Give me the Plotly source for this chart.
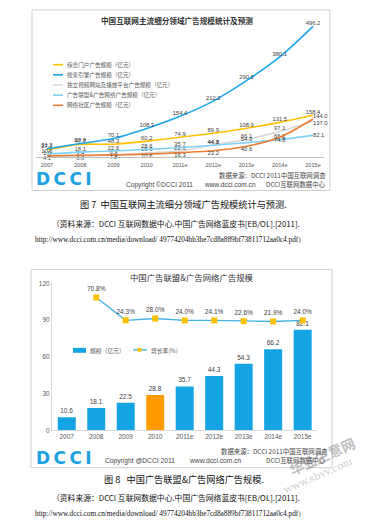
import plotly.graph_objects as go

W, H = 370, 524
def X(px): return px / W
def Y(py): return 1 - py / H

# ---------------- data: chart 1 ----------------
years = ["2007", "2008", "2009", "2010", "2011e", "2012e", "2013e", "2014e", "2015e"]
portal = [27.2, 47.7, 48.3, 60.2, 74.9, 89.9, 108.9, 131.5, 158.4]
search = [31.2, 50.8, 70.1, 108.3, 154.4, 212.2, 290.0, 380.1, 496.2]
video = [1.9, 3.4, 6.9, 15.3, 22.6, 44.8, 66.1, 97.1, 137.0]
adnet = [10.6, 18.1, 22.6, 28.6, 35.7, 44.3, 54.3, 66.2, 82.1]
community = [4.1, 6.6, 7.8, 10.6, 16.3, 23.2, 40.6, 74.8, 144.0]
series_names = ["综合门户广告规模（亿元）", "搜索引擎广告规模（亿元）",
                "独立视频网站及播放平台广告规模（亿元）", "广告联盟&广告网络广告规模（亿元）",
                "网络社区广告规模（亿元）"]

# ---------------- data: chart 2 ----------------
scale = [10.6, 18.1, 22.5, 28.8, 35.7, 44.3, 54.3, 66.2, 82.1]
growth_years = years[1:]
growth = [70.8, 24.3, 28.0, 24.0, 24.1, 22.6, 21.9, 24.0]
bar_ticks = [0, 30, 60, 90, 120]

NUM = "Liberation Sans, Noto Sans CJK SC, sans-serif"
CJK = "Noto Sans CJK SC, sans-serif"
LBL = "#404040"

fig = go.Figure()

c_portal, c_search, c_video, c_adnet, c_comm = "#FFC000", "#1CA7EC", "#D9D9D9", "#7FD2F5", "#ED7D31"
colors1 = [c_portal, c_search, c_video, c_adnet, c_comm]
vals1 = [portal, search, video, adnet, community]
pos1 = [
    ["top center"] * 9,
    ["top center"] * 8 + ["top center"],
    ["top center"] * 8 + ["bottom right"],
    ["top center"] * 8 + ["middle right"],
    ["bottom center"] * 8 + ["top right"],
]
for name, v, c, p in zip(series_names, vals1, colors1, pos1):
    fig.add_trace(go.Scatter(
        x=years, y=v, name=name, mode="lines+text",
        line=dict(color=c, width=1.6, shape="spline", smoothing=0.8),
        text=[f"{a:.1f}" for a in v], textposition=p,
        textfont=dict(size=5.8, color=LBL, family=NUM),
        cliponaxis=False, showlegend=False,
        xaxis="x", yaxis="y"))

# chart 2 bars
bar_colors = ["#14A3E3"] * 9
bar_colors[3] = "#FF9A00"
fig.add_trace(go.Bar(
    x=years, y=scale, name="规模（亿元）", marker=dict(color=bar_colors, line=dict(width=0)),
    width=0.61, text=[f"{a:.1f}" for a in scale], textposition="outside",
    textfont=dict(size=6.5, color=LBL, family=NUM), constraintext="none",
    cliponaxis=False, showlegend=False, xaxis="x2", yaxis="y2"))
fig.add_trace(go.Scatter(
    x=growth_years, y=growth, name="增长率(%)", mode="lines+markers+text",
    line=dict(color="#3DB3E6", width=1.3),
    marker=dict(symbol="square", size=6, color="#FFC000"),
    text=[f"{a:.1f}%" for a in growth], textposition="top center",
    textfont=dict(size=6.5, color=LBL, family=NUM),
    cliponaxis=False, showlegend=False, xaxis="x2", yaxis="y3"))

shapes = []
annos = []

def txt(x, y, s, size, color="#333", family=CJK, xa="center", ya="middle", angle=0):
    annos.append(dict(x=X(x), y=Y(y), xref="paper", yref="paper", text=s, showarrow=False,
                      xanchor=xa, yanchor=ya, textangle=angle,
                      font=dict(size=size, color=color, family=family)))

# chart frames
shapes.append(dict(type="rect", xref="paper", yref="paper", x0=X(32), x1=X(330), y0=Y(189), y1=Y(6),
                   line=dict(color="#CFCFCF", width=1), layer="below"))
shapes.append(dict(type="rect", xref="paper", yref="paper", x0=X(31), x1=X(332), y0=Y(470), y1=Y(269),
                   line=dict(color="#CFCFCF", width=1), layer="below"))

# chart 1 title & legend
annos.append(dict(x=X(177), y=Y(17), xref="paper", yref="paper", showarrow=False,
                  text="<b>中国互联网主流细分领域广告规模统计及预测</b>", xanchor="center", yanchor="middle",
                  font=dict(size=7.6, color="#333", family=CJK)))
for i, (name, c) in enumerate(zip(series_names, colors1)):
    yy = 61.5 + i * 10.3
    shapes.append(dict(type="line", xref="paper", yref="paper", x0=X(53), x1=X(63), y0=Y(yy), y1=Y(yy),
                       line=dict(color=c, width=1.6)))
    txt(65, yy, name, 5.6, "#595959", xa="left")

# chart 1 footer
txt(64, 177, "<b>D\u2009C\u2009C\u2009I</b>", 17, "#1BA1E2", family="DejaVu Sans, sans-serif")
txt(124, 183, "Copyright ©DCCI 2011", 6.6, "#444", family=NUM, xa="left")
txt(202, 183, "www.dcci.com.cn", 6.6, "#444", family=NUM, xa="left")
txt(328, 173.5, "数据来源：DCCI 2011中国互联网调查", 6.4, "#444", xa="right")
txt(328, 182.5, "DCCI互联网数据中心", 6.4, "#444", xa="right")
txt(333, 187, ".", 5, "#999", family=NUM, xa="left")

# caption 1
txt(183, 202.5, "图 7  中国互联网主流细分领域广告规模统计与预测.", 9.2, "#111")
txt(176, 222, "（资料来源：DCCI 互联网数据中心.中国广告网络蓝皮书[EB/OL].[2011].", 7.8, "#111")
txt(170, 238.5, "http://www.dcci.com.cn/media/download/ 49774204bb3be7cd8a889bf73811712aa0c4.pdf）",
    7.3, "#111", family="Liberation Serif, serif")
txt(314, 239, ".", 5, "#999", family=NUM, xa="left")
txt(12, 251, ".", 5, "#999", family=NUM, xa="left")

# chart 2 title & legend
txt(192, 276.5, "中国广告联盟&广告网络广告规模", 8.4, "#333")
shapes.append(dict(type="rect", xref="paper", yref="paper", x0=X(73), x1=X(86), y0=Y(353.5), y1=Y(348.5),
                   fillcolor="#14A3E3", line=dict(width=0)))
txt(88, 351, "规模（亿元）", 5.8, "#595959", xa="left")
shapes.append(dict(type="line", xref="paper", yref="paper", x0=X(133), x1=X(147), y0=Y(350.5), y1=Y(350.5),
                   line=dict(color="#3DB3E6", width=1.3)))
shapes.append(dict(type="rect", xref="paper", yref="paper", x0=X(137.5), x1=X(141.5), y0=Y(352.5), y1=Y(348.5),
                   fillcolor="#FFC000", line=dict(width=0)))
txt(149, 351, "增长率(%)", 5.8, "#595959", xa="left")

# chart 2 footer
txt(64, 460.5, "<b>D\u2009C\u2009C\u2009I</b>", 17, "#1BA1E2", family="DejaVu Sans, sans-serif")
txt(103, 463, "Copyright @DCCI 2011", 6.7, "#444", family=NUM, xa="left")
txt(187, 463, "www.dcci.com.cn", 6.7, "#444", family=NUM, xa="left")
txt(330, 454, "数据来源：DCCI 2011中国互联网调查", 6.4, "#444", xa="right")
txt(328, 463, "DCCI互联网数据中心", 6.4, "#444", xa="right")

# caption 2
txt(184, 481.5, "图 8   中国广告联盟&广告网络广告规模.", 9.2, "#111")
txt(176, 500, "（资料来源：DCCI 互联网数据中心.中国广告网络蓝皮书[EB/OL].[2011].", 7.8, "#111")
txt(170, 516, "http://www.dcci.com.cn/media/download/ 49774204bb3be7cd8a889bf73811712aa0c4.pdf）",
    7.3, "#111", family="Liberation Serif, serif")
txt(344, 516.5, ".", 5, "#999", family=NUM, xa="left")

# watermark
txt(322, 458, "<b>华业生意网</b>", 14, "rgba(110,110,110,0.45)", angle=-24)
txt(318, 478, "www.sbvv.com", 10, "rgba(120,120,120,0.4)", family="DejaVu Serif, serif", angle=-24)

fig.update_layout(
    width=W, height=H, autosize=False,
    margin=dict(l=0, r=0, t=0, b=0),
    paper_bgcolor="white", plot_bgcolor="rgba(0,0,0,0)",
    showlegend=False,
    xaxis=dict(domain=[X(36), X(324)], anchor="y", type="category", range=[-0.33, 8.33],
               showgrid=False, zeroline=False, showline=True, linecolor="#BFBFBF", linewidth=1,
               ticks="", tickfont=dict(size=5.6, color="#595959", family=NUM), ticklabelstandoff=2),
    yaxis=dict(domain=[Y(155), Y(20)], anchor="x", range=[0, 506.4], visible=False),
    xaxis2=dict(domain=[X(52), X(317.4)], anchor="y2", type="category", range=[-0.5, 8.5],
                showgrid=False, zeroline=False, showline=True, linecolor="#D9D9D9", linewidth=1,
                ticks="", tickfont=dict(size=6.5, color="#595959", family=NUM)),
    yaxis2=dict(domain=[Y(432), Y(283)], anchor="x2", range=[0, 120], tickvals=bar_ticks,
                showgrid=False, zeroline=False, showline=True, linecolor="#D9D9D9", linewidth=1,
                ticks="", tickfont=dict(size=6.5, color="#595959", family=NUM)),
    yaxis3=dict(domain=[Y(432), Y(283)], overlaying="y2", anchor="x2", range=[-200, 100], visible=False),
    shapes=shapes, annotations=annos,
)

fig.write_html("out.html", config={"displayModeBar": False},
               post_script="document.body.style.margin='0px';document.body.style.overflow='hidden';")
